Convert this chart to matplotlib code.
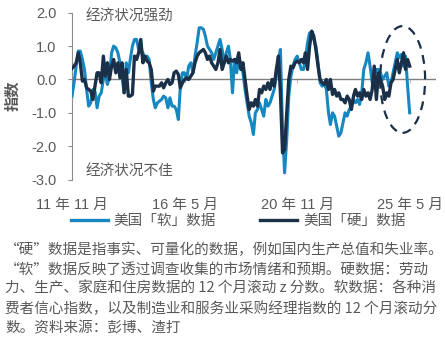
import matplotlib
matplotlib.use("Agg")
import matplotlib.pyplot as plt
import matplotlib.dates as mdates
from matplotlib.patches import Ellipse
from matplotlib.ticker import NullFormatter
import pandas as pd

plt.rcParams['font.family'] = ['Liberation Sans', 'Noto Sans CJK SC', 'DejaVu Sans']

# Monthly 12-month rolling z-scores, Nov 2011 - May 2025
start_month = "2011-11-01"

soft_data = [
    -0.5, -0.1, 0.4, 0.85, 0.85, 0.6, 0.3, -0.3, -0.8, -0.7,
    -0.3, -0.35, -0.85, -0.5, -0.4, 0.0, 0.2, -0.15, 0.1, 0.8,
    1.0, 0.95, 0.8, 0.5, 0.1, -0.4, 0.5, 0.2, 0.6, 1.0,
    1.2, 1.2, 0.9, 0.9, 0.8, 0.6, 0.7, 0.6, -0.1, -0.6,
    -0.85, -0.7, -0.65, -0.6, -0.5, -0.55, -0.85, -0.55, -0.8, -0.8,
    -0.9, -1.2, -0.2, 0.2, 0.2, 0.0, 0.4, 0.5, 0.2, 0.7,
    1.1, 1.55, 1.55, 1.5, 1.3, 1.0, 0.9, 0.8, 0.6, 0.8,
    1.0, 1.2, 0.9, 0.5, 0.8, 1.0, 0.6, -0.4, 0.6, 0.2,
    0.6, 0.5, 0.2, -0.3, -0.7, -1.1, -1.3, -1.65, -1.0, -0.9,
    -0.7, -0.9, -1.1, -0.6, -0.8, -0.7, -0.5, -0.3, 0.1, 0.6,
    0.9, -1.5, -2.8, -1.8, -0.5, 0.1, 0.4, 0.6, 0.7, 0.5,
    0.3, 0.3, 0.6, 1.1, 1.4, 1.3, 1.2, 1.0, 0.5, -0.1,
    -0.2, -0.1, -0.3, -1.0, -1.35, -1.0, -1.1, -1.4, -1.7, -1.6,
    -1.3, -1.0, -1.1, -0.9, -0.8, -0.6, -0.7, -0.6, -0.75, -0.4,
    0.3, 0.5, 0.8, 0.4, -0.1, 0.1, 0.3, 0.3, 0.2, 0.0,
    0.1, 0.2, -0.2, -0.1, 0.2, 0.5, 0.8, 0.65, 0.75, 0.4,
    0.7, -0.2, -1.0,
]

hard_data = [
    0.33, 0.4, 0.5, 0.8, 0.5, -0.05, 0.0, -0.25, -0.3, -0.35,
    -0.6, -0.2, 0.2, 0.2, -0.1, 0.7, 0.1, 0.5, 0.0, 0.4,
    0.6, 0.2, 0.5, 0.05, 0.5, -0.4, 0.3, -0.5, -0.5, -0.45,
    0.7, 0.6, 0.8, 1.2, 0.5, 0.7, 0.55, 0.5, 0.3, -0.35,
    -0.2, -0.2, -0.2, -0.1, -0.25, -0.1, 0.0, -0.15, -0.1, 0.2,
    0.25, 0.15, -0.25, -0.1, 0.0, 0.05, 0.0, 0.1, 0.2, 0.5,
    0.7, 0.8, 0.85, 0.9, 0.8, 0.6, 0.7, 0.5, 0.4, 0.3,
    0.5, 0.9, 0.3, 0.5, 0.7, 0.5, 0.6, 0.55, 0.6, 0.5,
    0.8, 0.3, 0.5, 0.0, -0.5, -0.9, -0.7, -0.8, -0.6, -0.8,
    -0.3, -0.4, -0.2, -0.3, -0.1, -0.3, 0.0, -0.2, 0.3, 0.7,
    -0.4, -2.2, -2.1, -1.0, 0.0, 0.4, 0.35, 0.5, 0.55, 0.5,
    0.6, 0.5, 0.8, 0.3, 1.0, 1.45, 1.3, 0.9, 0.4, 0.0,
    -0.1, -0.15, 0.0, -0.3, 0.0, -0.45, -0.3, -0.5, -0.4, -0.6,
    -0.6, -0.7, -0.5, -0.6, -0.9, -0.5, -0.3, -0.5, -0.4, -0.6,
    -0.3, -0.5, -0.4, -0.6, -0.3, 0.4, -0.6, 0.2, 0.0, -0.2,
    -0.6, -0.4, -0.5, -0.1, 0.0, 0.3, 0.6, 0.2, 0.5, 0.8,
    0.3, 0.6, 0.4,
]

tick_dates = ["2011-11-01", "2016-05-01", "2020-11-01", "2025-05-01"]
tick_labels = ["11 年 11 月", "16 年 5 月", "20 年 11 月", "25 年 5 月"]
y_ticks = [2.0, 1.0, 0.0, -1.0, -2.0, -3.0]
y_tick_labels = ["2.0", "1.0", "0.0", "-1.0", "-2.0", "-3.0"]
series_labels = ["美国「软」数据", "美国「硬」数据"]

caption_lines = [
    "“硬”数据是指事实、可量化的数据，例如国内生产总值和失业率。",
    "“软”数据反映了透过调查收集的市场情绪和预期。硬数据：劳动",
    "力、生产、家庭和住房数据的 12 个月滚动 z 分数。软数据：各种消",
    "费者信心指数，以及制造业和服务业采购经理指数的 12 个月滚动分",
    "数。资料来源：彭博、渣打",
]

SOFT_COLOR = "#1687c0"
HARD_COLOR = "#1a2f48"
TEXT_COLOR = "#595959"
AXIS_COLOR = "#8c8c8c"

dates = pd.date_range(start_month, periods=len(soft_data), freq="MS")

fig = plt.figure(figsize=(4.45, 3.40), dpi=100)
ax = fig.add_axes([0.1618, 0.472, 0.8182, 0.4905])

ax.plot(dates, soft_data, color=SOFT_COLOR, lw=2.2, label=series_labels[0],
        solid_joinstyle="round", zorder=3)
ax.plot(dates, hard_data, color=HARD_COLOR, lw=2.4, label=series_labels[1],
        solid_joinstyle="round", zorder=4)

x0 = mdates.date2num(pd.Timestamp(start_month))
x_right = mdates.date2num(pd.Timestamp("2026-05-22"))
ax.set_xlim(x0, x_right)
ax.set_ylim(-3.0, 2.0)

# zero line with its own tick marks; date labels sit under the plot
ax.axhline(0, color="#7f7f7f", lw=1.0, zorder=2)
tick_nums = [mdates.date2num(pd.Timestamp(d)) for d in tick_dates]
ax.set_xticks(tick_nums)
ax.set_xticklabels(tick_labels)
ax.tick_params(axis="x", length=0, pad=13, labelsize=10.5, colors=TEXT_COLOR)
zero_axis = ax.secondary_xaxis(0.6)
zero_axis.set_xticks(tick_nums)
zero_axis.xaxis.set_major_formatter(NullFormatter())
zero_axis.xaxis.set_ticks_position("bottom")
zero_axis.tick_params(axis="x", length=3, width=0.8, color="#bfbfbf",
                      labelbottom=False, labeltop=False, direction="out")
for s in zero_axis.spines.values():
    s.set_visible(False)

ax.set_yticks(y_ticks)
ax.set_yticklabels(y_tick_labels)
ax.tick_params(axis="y", length=3, width=0.8, color=AXIS_COLOR, pad=8,
               labelsize=10.5, labelcolor=TEXT_COLOR)
for side in ("top", "right", "bottom"):
    ax.spines[side].set_visible(False)
ax.spines["left"].set_color(AXIS_COLOR)
ax.spines["left"].set_linewidth(0.8)

ax.set_ylabel("指数", fontsize=11, fontweight="bold", color=TEXT_COLOR, labelpad=8,
              family=["Noto Sans CJK SC"])

ax.text(mdates.date2num(pd.Timestamp("2012-05-20")), 1.88, "经济状况强劲",
        fontsize=10.5, color=TEXT_COLOR, va="center", ha="left",
        family=["Noto Sans CJK SC"])
ax.text(mdates.date2num(pd.Timestamp("2012-05-20")), -2.77, "经济状况不佳",
        fontsize=10.5, color=TEXT_COLOR, va="center", ha="left",
        family=["Noto Sans CJK SC"])

# highlight of the most recent months
ell_center = mdates.date2num(pd.Timestamp("2025-01-18"))
ax.add_patch(Ellipse((ell_center, 0.0), width=657, height=3.2, fill=False,
                     edgecolor=HARD_COLOR, lw=1.6, ls=(0, (4, 3)), zorder=5,
                     clip_on=False))

leg = fig.legend(loc="center", bbox_to_anchor=(0.535, 0.351), ncol=2,
                 frameon=False, handlelength=2.55,
                 handletextpad=0.42, columnspacing=3.0,
                 prop={"family": ["Noto Sans CJK SC"], "size": 10.5})
for t in leg.get_texts():
    t.set_color(TEXT_COLOR)
for h in leg.get_lines():
    h.set_linewidth(2.4)

line_y = [250, 269.5, 289, 308.5, 328]
for txt, yy in zip(caption_lines, line_y):
    fig.text(5 / 445, 1 - yy / 340, txt, fontsize=10.5, color=TEXT_COLOR,
             va="center", ha="left", family=["Noto Sans CJK SC"])

fig.savefig("out.png", dpi=100)
